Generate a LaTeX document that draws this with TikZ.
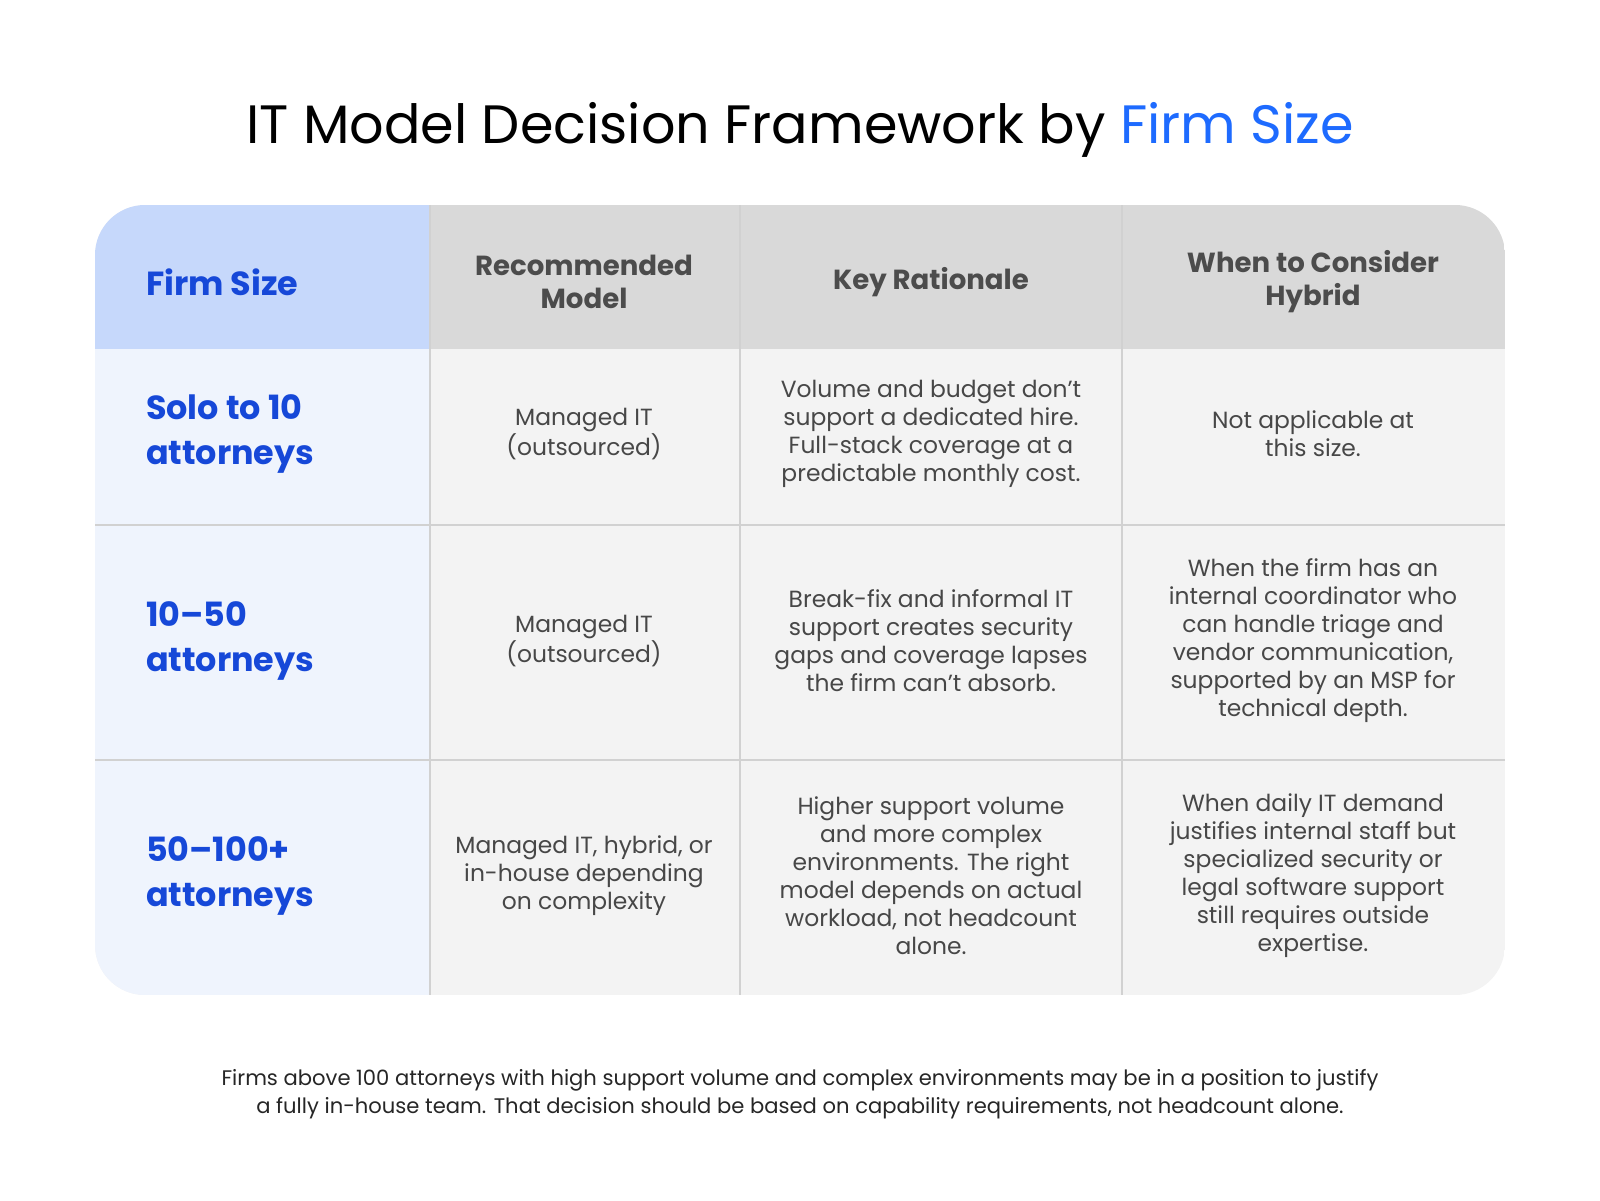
\documentclass[tikz,border=0pt]{standalone}
\usepackage{fontspec}
\setmainfont{Poppins}
\begin{document}
\begin{tikzpicture}[x=0.5pt,y=-0.5pt,
  body/.style={align=center,text=black!72,font=\fontsize{11.7}{14}\selectfont},
  hdr/.style={align=center,text=black!70,font=\bfseries\fontsize{13.8}{16.5}\selectfont},
  first/.style={align=left,anchor=west,text=blue1,font=\bfseries\fontsize{16.7}{22.5}\selectfont},
  sep/.style={draw=black!18,line width=0.6pt}]
\definecolor{blue1}{HTML}{1648D8}
\definecolor{blue2}{HTML}{1E6BFF}
\definecolor{hblue}{HTML}{C6D8FB}
\definecolor{lblue}{HTML}{EFF4FD}
\definecolor{hgray}{HTML}{D9D9D9}
\definecolor{bgray}{HTML}{F3F3F3}
\useasboundingbox (0,0) rectangle (1600,1200);
\node[font=\fontsize{27}{32}\selectfont] (title) at (800,130) {IT Model Decision Framework by \textcolor{blue2}{Firm Size}};
\begin{scope}
\clip[rounded corners=25] (95,205) rectangle (1505,995);
\fill[bgray] (95,205) rectangle (1505,995);
\fill[hgray] (430,205) rectangle (1505,349);
\fill[hblue] (95,205) rectangle (430,349);
\fill[lblue] (95,349) rectangle (430,995);
\draw[sep] (95,525) -- (1505,525);
\draw[sep] (95,760) -- (1505,760);
\draw[sep] (430,205) -- (430,995);
\draw[sep] (740,205) -- (740,995);
\draw[sep] (1122,205) -- (1122,995);
\end{scope}
\node[first] (h1) at (139,282) {Firm Size};
\node[hdr] (h2) at (584,282) {Recommended\\Model};
\node[hdr] (h3) at (931,282) {Key Rationale};
\node[hdr] (h4) at (1313,282) {When to Consider\\Hybrid};
\node[first] (r1) at (139,434) {Solo to 10\\attorneys};
\node[body] (r1b) at (584,434) {Managed IT\\(outsourced)};
\node[body] (r1c) at (931,434) {Volume and budget don’t\\support a dedicated hire.\\Full-stack coverage at a\\predictable monthly cost.};
\node[body] (r1d) at (1313,434) {Not applicable at\\this size.};
\node[first] (r2) at (139,641) {10–50\\attorneys};
\node[body] (r2b) at (584,641) {Managed IT\\(outsourced)};
\node[body] (r2c) at (931,641) {Break-fix and informal IT\\support creates security\\gaps and coverage lapses\\the firm can’t absorb.};
\node[body] (r2d) at (1313,641) {When the firm has an\\internal coordinator who\\can handle triage and\\vendor communication,\\supported by an MSP for\\technical depth.};
\node[first] (r3) at (139,876) {50–100+\\attorneys};
\node[body] (r3b) at (584,876) {Managed IT, hybrid, or\\in-house depending\\on complexity};
\node[body] (r3c) at (931,876) {Higher support volume\\and more complex\\environments. The right\\model depends on actual\\workload, not headcount\\alone.};
\node[body] (r3d) at (1313,876) {When daily IT demand\\justifies internal staff but\\specialized security or\\legal software support\\still requires outside\\expertise.};
\node[align=center,text=black!85,font=\fontsize{10.55}{14.3}\selectfont] (foot) at (800,1094) {Firms above 100 attorneys with high support volume and complex environments may be in a position to justify\\a fully in-house team. That decision should be based on capability requirements, not headcount alone.};
\end{tikzpicture}
\end{document}
